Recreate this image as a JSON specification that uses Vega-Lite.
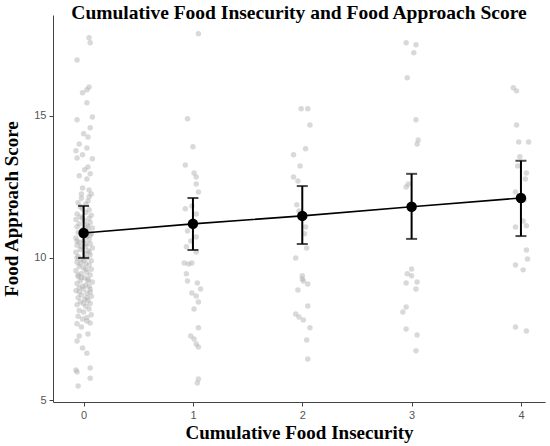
{
  "$schema": "https://vega.github.io/schema/vega-lite/v6.json",
  "width": 492,
  "height": 387,
  "autosize": {"type": "none"},
  "padding": {"left": 53, "top": 15, "right": 5, "bottom": 44},
  "title": {
    "text": "Cumulative Food Insecurity and Food Approach Score",
    "font": "Liberation Serif",
    "fontSize": 19.5,
    "fontWeight": "bold",
    "color": "#000",
    "anchor": "middle",
    "offset": -8
  },
  "config": {
    "view": {"stroke": null},
    "axis": {
      "grid": false,
      "domainColor": "#444",
      "tickColor": "#444",
      "labelColor": "#555",
      "labelFont": "Liberation Sans",
      "labelFontSize": 11,
      "tickSize": 4,
      "titleFont": "Liberation Serif",
      "titleFontWeight": "bold",
      "titleColor": "#000",
      "titleFontSize": 19
    }
  },
  "datasets": {
    "points": [
      {"g": 0, "xj": 0.05, "score": 17.75}, {"g": 0, "xj": 0.06, "score": 17.57}, {"g": 0, "xj": -0.06, "score": 16.97},
      {"g": 0, "xj": 0.05, "score": 16.02}, {"g": 0, "xj": 0.03, "score": 15.92}, {"g": 0, "xj": -0.01, "score": 15.81},
      {"g": 0, "xj": 0.03, "score": 15.46}, {"g": 0, "xj": 0.08, "score": 14.96}, {"g": 0, "xj": -0.06, "score": 14.86},
      {"g": 0, "xj": 0.06, "score": 14.58}, {"g": 0, "xj": 0.0, "score": 14.37}, {"g": 0, "xj": 0.04, "score": 14.26},
      {"g": 0, "xj": -0.04, "score": 14.01}, {"g": 0, "xj": -0.07, "score": 13.77}, {"g": 0, "xj": 0.03, "score": 13.87},
      {"g": 0, "xj": -0.01, "score": 13.63}, {"g": 0, "xj": 0.08, "score": 13.49}, {"g": 0, "xj": -0.06, "score": 13.52},
      {"g": 0, "xj": 0.04, "score": 13.2}, {"g": 0, "xj": 0.01, "score": 13.1}, {"g": 0, "xj": 0.06, "score": 12.96},
      {"g": 0, "xj": -0.04, "score": 12.89}, {"g": 0, "xj": 0.03, "score": 12.78}, {"g": 0, "xj": -0.01, "score": 12.46},
      {"g": 0, "xj": 0.05, "score": 12.39}, {"g": 0, "xj": -0.02, "score": 12.25}, {"g": 0, "xj": 0.07, "score": 12.25},
      {"g": 0, "xj": -0.05, "score": 11.94}, {"g": 0, "xj": 0.04, "score": 12.0}, {"g": 0, "xj": -0.01, "score": 11.73},
      {"g": 0, "xj": -0.06, "score": 11.55}, {"g": 0, "xj": 0.02, "score": 11.6}, {"g": 0, "xj": 0.07, "score": 11.5},
      {"g": 0, "xj": -0.03, "score": 11.45}, {"g": 0, "xj": 0.05, "score": 11.4}, {"g": 0, "xj": -0.07, "score": 11.35},
      {"g": 0, "xj": 0.01, "score": 11.3}, {"g": 0, "xj": 0.06, "score": 11.25}, {"g": 0, "xj": -0.04, "score": 11.2},
      {"g": 0, "xj": 0.03, "score": 11.15}, {"g": 0, "xj": -0.06, "score": 11.1}, {"g": 0, "xj": 0.08, "score": 11.05},
      {"g": 0, "xj": -0.01, "score": 11.0}, {"g": 0, "xj": 0.04, "score": 10.95}, {"g": 0, "xj": -0.05, "score": 10.9},
      {"g": 0, "xj": 0.07, "score": 10.85}, {"g": 0, "xj": -0.02, "score": 10.8}, {"g": 0, "xj": 0.03, "score": 10.75},
      {"g": 0, "xj": -0.07, "score": 10.7}, {"g": 0, "xj": 0.05, "score": 10.65}, {"g": 0, "xj": 0.0, "score": 10.6},
      {"g": 0, "xj": -0.04, "score": 10.55}, {"g": 0, "xj": 0.06, "score": 10.5}, {"g": 0, "xj": -0.06, "score": 10.45},
      {"g": 0, "xj": 0.02, "score": 10.4}, {"g": 0, "xj": 0.08, "score": 10.35}, {"g": 0, "xj": -0.03, "score": 10.3},
      {"g": 0, "xj": 0.04, "score": 10.25}, {"g": 0, "xj": -0.07, "score": 10.2}, {"g": 0, "xj": 0.01, "score": 10.15},
      {"g": 0, "xj": 0.06, "score": 10.1}, {"g": 0, "xj": -0.05, "score": 10.05}, {"g": 0, "xj": 0.03, "score": 10.0},
      {"g": 0, "xj": -0.02, "score": 9.95}, {"g": 0, "xj": 0.07, "score": 9.9}, {"g": 0, "xj": -0.06, "score": 9.85},
      {"g": 0, "xj": 0.02, "score": 9.8}, {"g": 0, "xj": 0.05, "score": 9.75}, {"g": 0, "xj": -0.04, "score": 9.7},
      {"g": 0, "xj": 0.0, "score": 9.65}, {"g": 0, "xj": 0.07, "score": 9.6}, {"g": 0, "xj": -0.07, "score": 9.55},
      {"g": 0, "xj": 0.03, "score": 9.5}, {"g": 0, "xj": -0.02, "score": 9.45}, {"g": 0, "xj": 0.06, "score": 9.4},
      {"g": 0, "xj": -0.05, "score": 9.35}, {"g": 0, "xj": 0.01, "score": 9.3}, {"g": 0, "xj": 0.04, "score": 9.25},
      {"g": 0, "xj": -0.03, "score": 9.2}, {"g": 0, "xj": 0.08, "score": 9.15}, {"g": 0, "xj": -0.06, "score": 9.1},
      {"g": 0, "xj": 0.02, "score": 9.05}, {"g": 0, "xj": 0.05, "score": 9.0}, {"g": 0, "xj": -0.04, "score": 8.95},
      {"g": 0, "xj": 0.0, "score": 8.9}, {"g": 0, "xj": -0.07, "score": 8.85}, {"g": 0, "xj": 0.06, "score": 8.8},
      {"g": 0, "xj": 0.03, "score": 8.75}, {"g": 0, "xj": -0.02, "score": 8.7}, {"g": 0, "xj": 0.07, "score": 8.65},
      {"g": 0, "xj": -0.05, "score": 8.6}, {"g": 0, "xj": 0.01, "score": 8.55}, {"g": 0, "xj": 0.04, "score": 8.5},
      {"g": 0, "xj": -0.03, "score": 8.45}, {"g": 0, "xj": 0.06, "score": 8.4}, {"g": 0, "xj": -0.06, "score": 8.35},
      {"g": 0, "xj": 0.02, "score": 8.3}, {"g": 0, "xj": 0.05, "score": 8.2}, {"g": 0, "xj": -0.04, "score": 8.15},
      {"g": 0, "xj": 0.0, "score": 8.1}, {"g": 0, "xj": 0.07, "score": 8.0}, {"g": 0, "xj": -0.05, "score": 7.95},
      {"g": 0, "xj": 0.03, "score": 7.9}, {"g": 0, "xj": -0.01, "score": 7.85}, {"g": 0, "xj": -0.01, "score": 11.4},
      {"g": 0, "xj": 0.04, "score": 11.1}, {"g": 0, "xj": 0.06, "score": 10.8}, {"g": 0, "xj": -0.06, "score": 10.6},
      {"g": 0, "xj": -0.02, "score": 10.4}, {"g": 0, "xj": 0.05, "score": 10.2}, {"g": 0, "xj": -0.06, "score": 10.0},
      {"g": 0, "xj": -0.03, "score": 9.8}, {"g": 0, "xj": 0.02, "score": 9.6}, {"g": 0, "xj": -0.05, "score": 9.4},
      {"g": 0, "xj": 0.04, "score": 9.2}, {"g": 0, "xj": -0.01, "score": 9.0}, {"g": 0, "xj": -0.04, "score": 8.8},
      {"g": 0, "xj": 0.03, "score": 8.6}, {"g": 0, "xj": 0.0, "score": 8.4}, {"g": 0, "xj": 0.01, "score": 10.9},
      {"g": 0, "xj": 0.02, "score": 10.5}, {"g": 0, "xj": 0.0, "score": 9.9}, {"g": 0, "xj": -0.02, "score": 9.3},
      {"g": 0, "xj": 0.06, "score": 8.9}, {"g": 0, "xj": 0.05, "score": 11.7}, {"g": 0, "xj": -0.03, "score": 11.8},
      {"g": 0, "xj": 0.02, "score": 11.9}, {"g": 0, "xj": -0.02, "score": 12.1}, {"g": 0, "xj": 0.05, "score": 12.15},
      {"g": 0, "xj": 0.03, "score": 7.78}, {"g": 0, "xj": 0.06, "score": 7.71}, {"g": 0, "xj": -0.06, "score": 7.68},
      {"g": 0, "xj": -0.02, "score": 7.57}, {"g": 0, "xj": 0.04, "score": 7.32}, {"g": 0, "xj": -0.04, "score": 7.25},
      {"g": 0, "xj": -0.06, "score": 7.08}, {"g": 0, "xj": -0.01, "score": 6.83}, {"g": 0, "xj": 0.03, "score": 6.65},
      {"g": 0, "xj": 0.06, "score": 6.13}, {"g": 0, "xj": -0.06, "score": 5.99}, {"g": 0, "xj": -0.07, "score": 6.06},
      {"g": 0, "xj": 0.06, "score": 5.77}, {"g": 0, "xj": -0.05, "score": 5.49},
      {"g": 1, "xj": 1.05, "score": 17.89}, {"g": 1, "xj": 0.95, "score": 14.9}, {"g": 1, "xj": 1.0, "score": 13.91},
      {"g": 1, "xj": 0.93, "score": 13.27}, {"g": 1, "xj": 1.01, "score": 12.99}, {"g": 1, "xj": 1.03, "score": 12.85},
      {"g": 1, "xj": 1.03, "score": 12.6}, {"g": 1, "xj": 1.05, "score": 12.32}, {"g": 1, "xj": 0.93, "score": 11.73},
      {"g": 1, "xj": 0.99, "score": 11.83}, {"g": 1, "xj": 1.03, "score": 11.55}, {"g": 1, "xj": 1.0, "score": 11.09},
      {"g": 1, "xj": 0.95, "score": 10.95}, {"g": 1, "xj": 1.03, "score": 10.74}, {"g": 1, "xj": 0.98, "score": 10.6},
      {"g": 1, "xj": 0.94, "score": 10.39}, {"g": 1, "xj": 1.03, "score": 10.21}, {"g": 1, "xj": 0.92, "score": 9.82},
      {"g": 1, "xj": 0.96, "score": 9.79}, {"g": 1, "xj": 0.99, "score": 9.82}, {"g": 1, "xj": 0.94, "score": 9.44},
      {"g": 1, "xj": 0.95, "score": 9.19}, {"g": 1, "xj": 1.04, "score": 9.12}, {"g": 1, "xj": 1.07, "score": 8.91},
      {"g": 1, "xj": 0.99, "score": 8.77}, {"g": 1, "xj": 1.03, "score": 8.66}, {"g": 1, "xj": 1.05, "score": 8.45},
      {"g": 1, "xj": 1.01, "score": 8.2}, {"g": 1, "xj": 1.05, "score": 7.54}, {"g": 1, "xj": 0.98, "score": 7.25},
      {"g": 1, "xj": 1.01, "score": 7.15}, {"g": 1, "xj": 1.03, "score": 6.97}, {"g": 1, "xj": 1.05, "score": 6.87},
      {"g": 1, "xj": 1.05, "score": 5.74}, {"g": 1, "xj": 1.04, "score": 5.6},
      {"g": 2, "xj": 1.99, "score": 15.25}, {"g": 2, "xj": 2.05, "score": 15.25}, {"g": 2, "xj": 2.07, "score": 14.68},
      {"g": 2, "xj": 2.03, "score": 13.84}, {"g": 2, "xj": 1.92, "score": 13.63}, {"g": 2, "xj": 1.98, "score": 13.24},
      {"g": 2, "xj": 1.92, "score": 12.85}, {"g": 2, "xj": 1.96, "score": 12.71}, {"g": 2, "xj": 1.95, "score": 11.87},
      {"g": 2, "xj": 1.97, "score": 11.65}, {"g": 2, "xj": 2.03, "score": 11.09}, {"g": 2, "xj": 2.02, "score": 10.85},
      {"g": 2, "xj": 2.04, "score": 10.35}, {"g": 2, "xj": 1.94, "score": 10.0}, {"g": 2, "xj": 2.0, "score": 9.37},
      {"g": 2, "xj": 2.0, "score": 9.26}, {"g": 2, "xj": 2.01, "score": 9.19}, {"g": 2, "xj": 2.05, "score": 9.08},
      {"g": 2, "xj": 1.96, "score": 8.87}, {"g": 2, "xj": 2.05, "score": 8.31}, {"g": 2, "xj": 1.94, "score": 8.03},
      {"g": 2, "xj": 1.97, "score": 7.92}, {"g": 2, "xj": 2.01, "score": 7.82}, {"g": 2, "xj": 2.07, "score": 7.54},
      {"g": 2, "xj": 2.04, "score": 7.11}, {"g": 2, "xj": 2.05, "score": 6.44},
      {"g": 3, "xj": 2.95, "score": 17.57}, {"g": 3, "xj": 3.04, "score": 17.5}, {"g": 3, "xj": 3.02, "score": 17.22},
      {"g": 3, "xj": 2.96, "score": 16.34}, {"g": 3, "xj": 3.04, "score": 14.86}, {"g": 3, "xj": 3.06, "score": 14.15},
      {"g": 3, "xj": 3.05, "score": 14.01}, {"g": 3, "xj": 2.97, "score": 12.6}, {"g": 3, "xj": 2.95, "score": 12.5},
      {"g": 3, "xj": 3.0, "score": 9.61}, {"g": 3, "xj": 2.96, "score": 9.44}, {"g": 3, "xj": 3.0, "score": 9.37},
      {"g": 3, "xj": 3.05, "score": 9.15}, {"g": 3, "xj": 2.95, "score": 9.12}, {"g": 3, "xj": 3.04, "score": 8.91},
      {"g": 3, "xj": 2.95, "score": 8.27}, {"g": 3, "xj": 2.92, "score": 8.1}, {"g": 3, "xj": 2.95, "score": 7.5},
      {"g": 3, "xj": 3.05, "score": 7.29}, {"g": 3, "xj": 3.04, "score": 6.73},
      {"g": 4, "xj": 3.93, "score": 15.99}, {"g": 4, "xj": 3.96, "score": 15.88}, {"g": 4, "xj": 3.96, "score": 14.68},
      {"g": 4, "xj": 3.98, "score": 14.08}, {"g": 4, "xj": 4.07, "score": 14.08}, {"g": 4, "xj": 3.99, "score": 13.56},
      {"g": 4, "xj": 3.97, "score": 13.24}, {"g": 4, "xj": 4.05, "score": 12.99}, {"g": 4, "xj": 4.04, "score": 12.78},
      {"g": 4, "xj": 3.95, "score": 12.32}, {"g": 4, "xj": 4.03, "score": 12.04}, {"g": 4, "xj": 4.02, "score": 11.3},
      {"g": 4, "xj": 3.95, "score": 11.09}, {"g": 4, "xj": 4.05, "score": 11.13}, {"g": 4, "xj": 4.05, "score": 10.28},
      {"g": 4, "xj": 4.06, "score": 9.96}, {"g": 4, "xj": 3.95, "score": 9.75}, {"g": 4, "xj": 4.02, "score": 9.58},
      {"g": 4, "xj": 3.95, "score": 7.57}, {"g": 4, "xj": 4.05, "score": 7.43}
    ],
    "means": [
      {"g": 0, "mean": 10.88, "lo": 10.0, "hi": 11.83},
      {"g": 1, "mean": 11.2, "lo": 10.28, "hi": 12.11},
      {"g": 2, "mean": 11.48, "lo": 10.49, "hi": 12.53},
      {"g": 3, "mean": 11.8, "lo": 10.67, "hi": 12.96},
      {"g": 4, "mean": 12.11, "lo": 10.77, "hi": 13.42}
    ]
  },
  "layer": [
    {
      "data": {"name": "points"},
      "mark": {"type": "circle", "size": 30, "color": "#aaaaaa", "opacity": 0.45},
      "encoding": {
        "x": {
          "field": "xj",
          "type": "quantitative",
          "title": "Cumulative Food Insecurity",
          "scale": {"domain": [-0.28, 4.22], "nice": false, "zero": false},
          "axis": {"values": [0, 1, 2, 3, 4], "format": "d", "labelPadding": 3, "titlePadding": 3}
        },
        "y": {
          "field": "score",
          "type": "quantitative",
          "title": "Food Approach Score",
          "scale": {"domain": [4.93, 18.55], "nice": false, "zero": false},
          "axis": {"values": [5, 10, 15], "labelPadding": 3, "titlePadding": 12}
        }
      }
    },
    {
      "data": {"name": "means"},
      "mark": {"type": "line", "color": "#000", "strokeWidth": 1.6},
      "encoding": {
        "x": {"field": "g", "type": "quantitative"},
        "y": {"field": "mean", "type": "quantitative"}
      }
    },
    {
      "data": {"name": "means"},
      "mark": {"type": "rule", "color": "#000", "strokeWidth": 2},
      "encoding": {
        "x": {"field": "g", "type": "quantitative"},
        "y": {"field": "lo", "type": "quantitative"},
        "y2": {"field": "hi"}
      }
    },
    {
      "data": {"name": "means"},
      "mark": {"type": "tick", "orient": "horizontal", "color": "#000", "size": 11, "thickness": 2},
      "encoding": {
        "x": {"field": "g", "type": "quantitative"},
        "y": {"field": "lo", "type": "quantitative"}
      }
    },
    {
      "data": {"name": "means"},
      "mark": {"type": "tick", "orient": "horizontal", "color": "#000", "size": 11, "thickness": 2},
      "encoding": {
        "x": {"field": "g", "type": "quantitative"},
        "y": {"field": "hi", "type": "quantitative"}
      }
    },
    {
      "data": {"name": "means"},
      "mark": {"type": "circle", "color": "#000", "size": 110, "opacity": 1},
      "encoding": {
        "x": {"field": "g", "type": "quantitative"},
        "y": {"field": "mean", "type": "quantitative"}
      }
    }
  ]
}
